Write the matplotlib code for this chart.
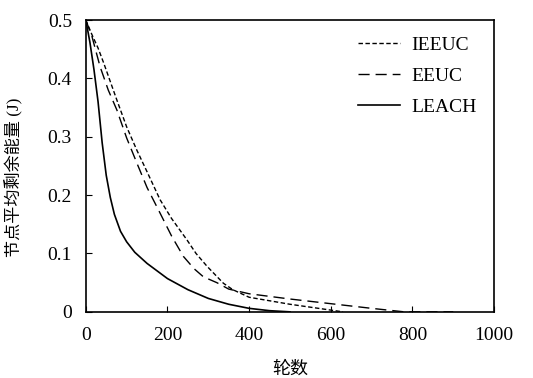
import matplotlib
matplotlib.use("Agg")
import matplotlib.pyplot as plt

# data (rounds vs. mean residual energy, J)
ieeuc_x = [0, 15, 30, 44, 76, 100, 125, 150, 182, 210, 248, 270, 297, 337, 360, 400, 450, 500, 550, 600, 630]
ieeuc_y = [0.5, 0.475, 0.452, 0.426, 0.363, 0.317, 0.277, 0.24, 0.192, 0.16, 0.123, 0.1, 0.078, 0.049, 0.038, 0.025, 0.019, 0.013, 0.008, 0.003, 0.0]
eeuc_x = [0, 15, 35, 55, 76, 100, 125, 150, 182, 210, 239, 265, 288, 321, 350, 400, 500, 600, 700, 780, 900]
eeuc_y = [0.5, 0.472, 0.42, 0.38, 0.346, 0.298, 0.255, 0.213, 0.169, 0.13, 0.095, 0.074, 0.06, 0.05, 0.039, 0.031, 0.022, 0.014, 0.006, 0.0, 0.0]
leach_x = [0, 10, 20, 30, 40, 50, 60, 70, 85, 100, 120, 150, 200, 250, 300, 350, 400, 450, 500]
leach_y = [0.5, 0.462, 0.415, 0.36, 0.29, 0.234, 0.196, 0.167, 0.138, 0.12, 0.102, 0.083, 0.057, 0.038, 0.023, 0.013, 0.006, 0.002, 0.0]

xticks = [0, 200, 400, 600, 800, 1000]
yticks = [0, 0.1, 0.2, 0.3, 0.4, 0.5]
ytick_labels = ["0", "0.1", "0.2", "0.3", "0.4", "0.5"]

plt.rcParams["font.family"] = ["Liberation Serif", "Noto Sans CJK SC"]

fig = plt.figure(figsize=(5.33, 3.78), dpi=100)
ax = fig.add_axes([0.161, 0.175, 0.766, 0.772])

ax.plot(ieeuc_x, ieeuc_y, color="black", lw=1.0, ls=(0, (3.2, 1.8)), label="IEEUC")
ax.plot(eeuc_x, eeuc_y, color="black", lw=1.0, ls=(0, (8, 4.3)), label="EEUC")
ax.plot(leach_x, leach_y, color="black", lw=1.2, ls="-", label="LEACH")

ax.set_xlim(0, 1000)
ax.set_ylim(0, 0.5)
ax.set_xticks(xticks)
ax.set_yticks(yticks, ytick_labels)
ax.tick_params(direction="in", length=4, labelsize=14, colors="black")
ax.tick_params(axis="x", pad=11)
ax.tick_params(axis="y", pad=10)
for sp in ax.spines.values():
    sp.set_linewidth(1.2)

ax.set_xlabel("轮数", fontsize=13, family=["Noto Sans CJK SC"], labelpad=11)
ax.set_ylabel("节点平均剩余能量 (J)", fontsize=12.3)
ax.yaxis.set_label_coords(-0.155, 0.46)

ax.legend(loc="upper right", frameon=False, fontsize=14, handlelength=2.15,
          handletextpad=0.6, labelspacing=0.7, bbox_to_anchor=(1.0, 1.005))

fig.savefig("out.png", dpi=100)
